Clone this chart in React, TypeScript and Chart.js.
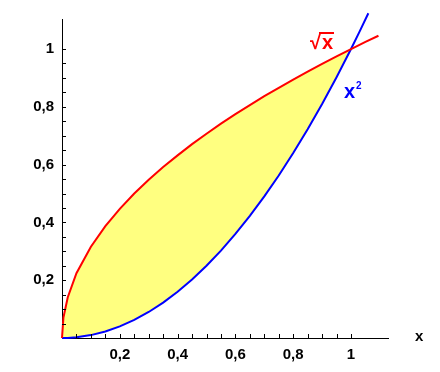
import React, { useEffect, useRef } from 'react';
import { Chart, registerables } from 'chart.js';

Chart.register(...registerables);

// Sample x positions shared by both curves inside the filled region (0..1)
const CURVE_X = [0, 0.005, 0.02, 0.05, 0.1, 0.15, 0.2, 0.25, 0.3, 0.35, 0.4, 0.45, 0.5, 0.55, 0.6, 0.65, 0.7, 0.75, 0.8, 0.85, 0.9, 0.95, 1.0];
// Red curve √x values
const ROOT_Y = [0, 0.071, 0.141, 0.224, 0.316, 0.387, 0.447, 0.5, 0.548, 0.592, 0.632, 0.671, 0.707, 0.742, 0.775, 0.806, 0.837, 0.866, 0.894, 0.922, 0.949, 0.975, 1.0];
// Blue curve x² values
const SQUARE_Y = [0, 0, 0.0004, 0.0025, 0.01, 0.0225, 0.04, 0.0625, 0.09, 0.1225, 0.16, 0.2025, 0.25, 0.3025, 0.36, 0.4225, 0.49, 0.5625, 0.64, 0.7225, 0.81, 0.9025, 1.0];
// Parts of the curves beyond x = 1 (not filled)
const ROOT_EXT_X = [1.05, 1.095];
const ROOT_EXT_Y = [1.025, 1.046];
const SQUARE_EXT_X = [1.03, 1.06];
const SQUARE_EXT_Y = [1.061, 1.124];

// Axis ticks
const MINOR_TICKS = [0.05, 0.1, 0.15, 0.2, 0.25, 0.3, 0.35, 0.4, 0.45, 0.5, 0.55, 0.6, 0.65, 0.7, 0.75, 0.8, 0.85, 0.9, 0.95, 1.0];
const MAJOR_TICKS = [0.2, 0.4, 0.6, 0.8, 1.0];
const MAJOR_LABELS = ['0,2', '0,4', '0,6', '0,8', '1'];

const X_MAX = 1.128;
const Y_MAX = 1.104;

const RED = '#ff0000';
const BLUE = '#0000ff';
const FILL = '#ffff80';
const FONT = "'Liberation Sans', Arial, sans-serif";

function pts(xs: number[], ys: number[]) {
  return xs.map((x, i) => ({ x, y: ys[i] }));
}

function tickLabel(value: number) {
  const i = MAJOR_TICKS.findIndex((v) => Math.abs(v - value) < 1e-6);
  return i >= 0 ? MAJOR_LABELS[i] : '';
}

const decorPlugin = {
  id: 'decor',
  afterDatasetsDraw(chart: any) {
    const ctx = chart.ctx as CanvasRenderingContext2D;
    const xs = chart.scales.x;
    const ys = chart.scales.y;
    const area = chart.chartArea;
    ctx.save();
    ctx.strokeStyle = '#000';
    ctx.lineWidth = 1;
    ctx.beginPath();
    for (const v of MINOR_TICKS) {
      const px = Math.round(xs.getPixelForValue(v)) + 0.5;
      ctx.moveTo(px, area.bottom);
      ctx.lineTo(px, area.bottom - 4);
      const py = Math.round(ys.getPixelForValue(v)) + 0.5;
      ctx.moveTo(area.left, py);
      ctx.lineTo(area.left + 4, py);
    }
    ctx.stroke();

    // curve labels
    ctx.textBaseline = 'alphabetic';
    ctx.textAlign = 'left';
    ctx.fillStyle = RED;
    ctx.font = `bold 20px ${FONT}`;
    ctx.fillText('√', 310, 49);
    ctx.fillText('x', 322, 49);
    ctx.strokeStyle = RED;
    ctx.lineWidth = 2;
    ctx.beginPath();
    ctx.moveTo(319, 33);
    ctx.lineTo(334, 33);
    ctx.stroke();

    ctx.fillStyle = BLUE;
    ctx.font = `bold 20px ${FONT}`;
    ctx.fillText('x', 344, 98);
    ctx.font = `bold 10px ${FONT}`;
    ctx.fillText('2', 356, 89);

    ctx.fillStyle = '#000';
    ctx.font = `bold 15px ${FONT}`;
    ctx.fillText('x', 415, 341);
    ctx.restore();
  },
};

export default function App() {
  const ref = useRef<HTMLCanvasElement>(null);
  useEffect(() => {
    if (!ref.current) return;
    const lineCommon = {
      showLine: true,
      pointRadius: 0,
      tension: 0,
      clip: false as const,
    };
    const chart = new Chart(ref.current, {
      type: 'scatter',
      data: {
        datasets: [
          {
            ...lineCommon,
            data: pts(CURVE_X.concat(ROOT_EXT_X), ROOT_Y.concat(ROOT_EXT_Y)),
            borderColor: RED,
            borderWidth: 2,
            fill: false,
          },
          {
            ...lineCommon,
            data: pts(CURVE_X.concat(SQUARE_EXT_X), SQUARE_Y.concat(SQUARE_EXT_Y)),
            borderColor: BLUE,
            borderWidth: 2,
            fill: false,
          },
          {
            ...lineCommon,
            data: pts(CURVE_X, ROOT_Y),
            borderWidth: 0,
            borderColor: 'rgba(0,0,0,0)',
            backgroundColor: FILL,
            fill: '+1',
          },
          {
            ...lineCommon,
            data: pts(CURVE_X, SQUARE_Y),
            borderWidth: 0,
            borderColor: 'rgba(0,0,0,0)',
            fill: false,
          },
        ],
      },
      options: {
        animation: false,
        responsive: false,
        devicePixelRatio: 1,
        layout: { padding: { top: 19, right: 52, left: 0, bottom: 0 } },
        plugins: { legend: { display: false }, tooltip: { enabled: false } },
        scales: {
          x: {
            type: 'linear',
            position: 'bottom',
            min: 0,
            max: X_MAX,
            grid: { display: false, drawTicks: false },
            border: { display: true, color: '#000', width: 1 },
            afterBuildTicks: (scale: any) => {
              scale.ticks = MINOR_TICKS.map((v) => ({ value: v }));
            },
            afterFit: (scale: any) => {
              scale.height = 34;
            },
            ticks: {
              autoSkip: false,
              maxRotation: 0,
              padding: 8,
              color: '#000',
              font: { family: FONT, size: 15, weight: 'bold' },
              callback: (v: any) => tickLabel(Number(v)),
            },
          },
          y: {
            type: 'linear',
            min: 0,
            max: Y_MAX,
            grid: { display: false, drawTicks: false },
            border: { display: true, color: '#000', width: 1 },
            afterBuildTicks: (scale: any) => {
              scale.ticks = MINOR_TICKS.map((v) => ({ value: v }));
            },
            afterFit: (scale: any) => {
              scale.width = 62;
            },
            ticks: {
              autoSkip: false,
              padding: 8,
              color: '#000',
              font: { family: FONT, size: 15, weight: 'bold' },
              callback: (v: any) => tickLabel(Number(v)),
            },
          },
        },
      },
      plugins: [decorPlugin],
    });
    return () => chart.destroy();
  }, []);

  return (
    <div style={{ position: 'absolute', left: 0, top: 0, width: 440, height: 372, background: '#fff' }}>
      <canvas ref={ref} width={440} height={372} />
    </div>
  );
}
